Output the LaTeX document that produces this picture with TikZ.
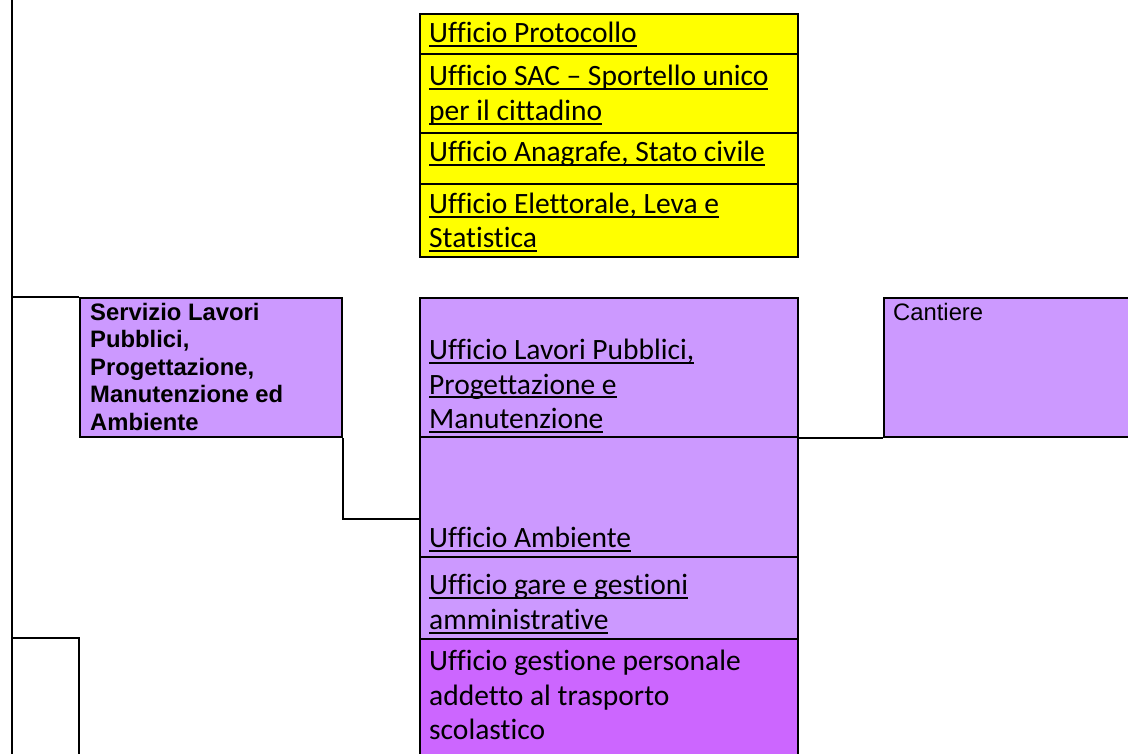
\documentclass[tikz,border=0pt]{standalone}
\usepackage{fontspec}
\setmainfont{Carlito}[Ligatures=NoCommon]
\newfontfamily\arialf{Liberation Sans}
\definecolor{yel}{HTML}{FFFF00}
\definecolor{lpur}{HTML}{CC99FF}
\definecolor{dpur}{HTML}{CC66FF}
\newcommand\ulc[1]{\leavevmode\setbox0\hbox{#1}\rlap{\rule[-4.3pt]{\wd0}{1.9pt}}\box0}
\begin{document}
\begin{tikzpicture}[x=1pt,y=-1pt,
  box/.style={draw=black, line width=2pt, anchor=north west, inner sep=0pt},
  wcol/.style={box, minimum width=378pt},
  lbl/.style={anchor=base west, inner sep=0pt, font=\fontsize{29.5}{34.5}\selectfont},
  albl/.style={anchor=base west, inner sep=0pt, font=\arialf\fontsize{23.8}{27.5}\selectfont},
  blbl/.style={albl, font=\arialf\bfseries\fontsize{23.8}{27.5}\selectfont},
  conn/.style={draw=black, line width=2pt}]
\useasboundingbox (0,0) rectangle (1128,754);
\fill[white] (0,0) rectangle (1128,754);
% boxes
\node[wcol, fill=yel, minimum height=40pt] (y1) at (419,13) {};
\node[wcol, fill=yel, minimum height=79pt] (y2) at (419,53) {};
\node[wcol, fill=yel, minimum height=51pt] (y3) at (419,132) {};
\node[wcol, fill=yel, minimum height=73pt] (y4) at (419,183) {};
\node[box, fill=lpur, minimum width=262pt, minimum height=139pt] (serv) at (79,297) {};
\node[wcol, fill=lpur, minimum height=139pt] (lav) at (419,297) {};
\node[wcol, fill=lpur, minimum height=120pt] (amb) at (419,436) {};
\node[wcol, fill=lpur, minimum height=82pt] (gare) at (419,556) {};
\node[wcol, fill=dpur, minimum height=130pt] (gest) at (419,638) {};
\node[box, fill=lpur, minimum width=260pt, minimum height=139pt] (cant) at (883,297) {};
% texts
\node[lbl] (t1) at (429,42.5) {\ulc{Ufficio Protocollo}};
\node[lbl] (t2a) at (429,86) {\ulc{Ufficio SAC – Sportello unico}};
\node[lbl] (t2b) at (429,120.5) {\ulc{per il cittadino}};
\node[lbl] (t3) at (429,162) {\ulc{Ufficio Anagrafe, Stato civile}};
\node[lbl] (t4a) at (429,213.5) {\ulc{Ufficio Elettorale, Leva e}};
\node[lbl] (t4b) at (429,248) {\ulc{Statistica}};
\node[blbl] (s1) at (90,320) {Servizio Lavori};
\node[blbl] (s2) at (90,347.5) {Pubblici,};
\node[blbl] (s3) at (90,375) {Progettazione,};
\node[blbl] (s4) at (90,402.5) {Manutenzione ed};
\node[blbl] (s5) at (90,430) {Ambiente};
\node[lbl] (t5a) at (429,359.5) {\ulc{Ufficio Lavori Pubblici,}};
\node[lbl] (t5b) at (429,394) {\ulc{Progettazione e}};
\node[lbl] (t5c) at (429,428.5) {\ulc{Manutenzione}};
\node[lbl] (t6) at (429,547.5) {\ulc{Ufficio Ambiente}};
\node[lbl] (t7a) at (429,594.5) {\ulc{Ufficio gare e gestioni}};
\node[lbl] (t7b) at (429,629.5) {\ulc{amministrative}};
\node[lbl] (t8a) at (429,670.5) {Ufficio gestione personale};
\node[lbl] (t8b) at (429,705) {addetto al trasporto};
\node[lbl] (t8c) at (429,739.5) {scolastico};
\node[albl] (c1) at (893,320) {Cantiere};
% connectors
\coordinate (ltop) at (12,-5);
\coordinate (lbot) at (12,760);
\coordinate (lj1) at (12,297);
\coordinate (lj2) at (12,638);
\coordinate (bc) at (79,638);
\coordinate (bcb) at (79,760);
\coordinate (aj) at (419,519);
\draw[conn] (ltop) -- (lbot);
\draw[conn] (lj1) -- (serv.north west);
\draw[conn] (serv.south east) |- (aj);
\draw[conn] (lav.south east) -- (cant.south west);
\draw[conn] (lj2) -- (bc) -- (bcb);
\end{tikzpicture}
\end{document}
